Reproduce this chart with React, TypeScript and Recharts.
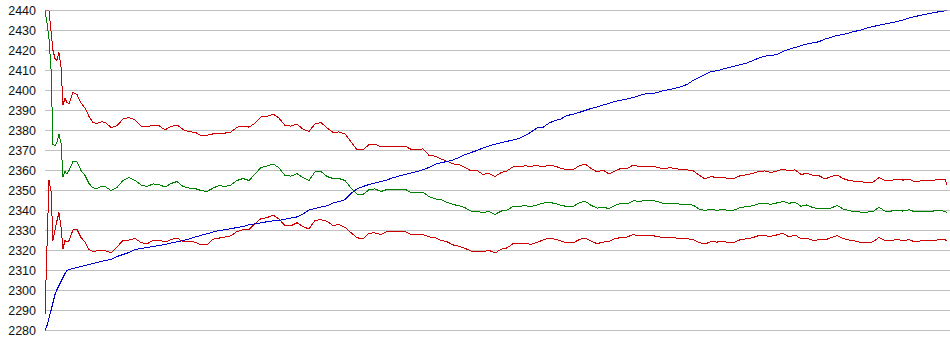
import { LineChart, Line, XAxis, YAxis, CartesianGrid } from "recharts"

// game number on the x axis
const games = [
  0, 1, 2, 3, 4, 5, 6, 7, 8, 9, 10, 11, 12,
  14, 16, 18, 20, 22, 24, 26, 28, 30,
  33, 36, 39, 42, 45, 48, 51, 54, 57, 60,
  63, 66, 69, 72, 75, 78, 81, 84, 87, 90,
  93, 96, 99, 102, 105, 108, 111, 114, 117, 120,
  123, 126, 129, 132, 135, 138, 141, 144, 147, 150,
  153, 156, 159, 162, 165, 168, 171, 174, 177, 180,
  183, 186, 189, 192, 195, 198, 201, 204, 207, 210,
  213, 216, 219, 222, 225, 228, 231, 234, 237, 240,
  243, 246, 249, 252, 255, 258, 261, 264, 267, 270,
  273, 276, 279, 282, 285, 288, 291, 294, 297, 300,
  303, 306, 309, 312, 315, 318, 321, 324, 327, 330,
  333, 336, 339, 342, 345, 348, 351, 354, 357, 360,
  363, 366, 369, 372, 375, 378, 381, 384, 387, 390,
  393, 396, 399, 402, 405, 408, 411, 414, 417, 420,
  423, 426, 429, 432, 435, 438, 441, 444, 447, 450,
  451,
]

// blue: rating
const rating = [
  2280, 2282.5, 2286, 2290, 2294, 2298, 2300.5, 2302.5, 2304.5, 2306.5, 2308.5, 2310, 2310.5,
  2311, 2311.5, 2312, 2312.5, 2313, 2313.5, 2314, 2314.5, 2315,
  2315.5, 2317, 2318, 2319, 2320.5, 2321, 2321.5, 2322, 2322.5, 2323,
  2323.8, 2324.3, 2325, 2325.7, 2326.7, 2327.6, 2328.4, 2329.2, 2330, 2330.4,
  2330.9, 2331.5, 2332, 2332.9, 2333.3, 2333.8, 2334.4, 2334.8, 2335, 2335.7,
  2336.2, 2336.8, 2338.3, 2340.2, 2341, 2341.8, 2342.3, 2343.8, 2344.4, 2345.4,
  2348.6, 2350.8, 2352, 2353, 2353.8, 2354.5, 2355.3, 2356.4, 2357.2, 2358,
  2358.7, 2359.5, 2360.4, 2361.5, 2363.1, 2363.9, 2364.5, 2365.3, 2366.5, 2367.9,
  2369, 2370, 2371.3, 2372.3, 2373.1, 2373.9, 2374.6, 2375.2, 2376, 2377.4,
  2379.2, 2381.3, 2381.6, 2383.7, 2385, 2385.8, 2387.5, 2388.1, 2389, 2390,
  2391, 2391.8, 2392.7, 2393.6, 2394.5, 2395.2, 2395.7, 2396.5, 2397.4, 2398.3,
  2398.3, 2398.9, 2399.9, 2400.4, 2401.1, 2401.9, 2403, 2405, 2406.5, 2408,
  2409.5, 2409.9, 2410.7, 2411.5, 2412.2, 2413, 2413.8, 2415, 2416.3, 2417.2,
  2417.4, 2418.1, 2419.5, 2420.6, 2421.5, 2422.4, 2423.3, 2423.8, 2424.4, 2425.7,
  2426.6, 2427.5, 2428, 2428.8, 2429.6, 2430.2, 2431.2, 2432, 2432.6, 2433.2,
  2433.8, 2434.5, 2435.3, 2436.2, 2437, 2437.6, 2438.2, 2438.8, 2439.4, 2439.8,
  2440,
]

// green: performance estimate
const estimate = [
  2440, 2434, 2426, 2411, 2373, 2372.5, 2374, 2378, 2374, 2357, 2359.5, 2358.3, 2360,
  2364.5, 2364.4, 2360, 2357.5, 2353.5, 2351.3, 2351, 2352, 2352,
  2350, 2351.5, 2355, 2356.5, 2355, 2352.8, 2352, 2353.3, 2353, 2351.7,
  2353.5, 2354.5, 2352, 2351.2, 2351, 2350, 2349.5, 2351.2, 2352.5, 2352,
  2352.8, 2355, 2356, 2355, 2358.2, 2361.5, 2362.3, 2363.3, 2361.3, 2357.5,
  2357.2, 2358.4, 2356.5, 2355, 2359.3, 2359.5, 2357, 2356, 2356, 2355,
  2351.2, 2348.2, 2348, 2350.4, 2350.8, 2349.5, 2350.5, 2350.7, 2350.7, 2350.7,
  2349, 2348.8, 2349.2, 2347, 2345.8, 2345.5, 2344.1, 2343, 2342.4, 2341.4,
  2339.7, 2339.6, 2338.9, 2339.6, 2338, 2339.7, 2340.2, 2342, 2342.1, 2342.4,
  2342, 2342.8, 2343.7, 2344.1, 2343.5, 2342.6, 2342, 2342, 2343.8, 2344.7,
  2342.6, 2341.2, 2341.6, 2341, 2342.5, 2343.6, 2343.3, 2344.8, 2344.7, 2344.8,
  2345, 2344.6, 2343.6, 2343.7, 2343.7, 2343, 2343, 2342.7, 2340.7, 2340,
  2340.8, 2340, 2340.6, 2339.8, 2340.3, 2341.6, 2341.9, 2342.4, 2343.5, 2343.6,
  2343.1, 2343.8, 2344.5, 2343.6, 2344.2, 2342.1, 2342.8, 2341.4, 2341, 2340.8,
  2341.2, 2342.5, 2340.8, 2339.9, 2339.5, 2339.2, 2339.2, 2339.5, 2341.6, 2339.7,
  2339.7, 2340.2, 2339.7, 2340.4, 2339.3, 2339.6, 2339.7, 2339.7, 2340.2, 2339.5,
  2338.8,
]

// red: upper bound
const upper = [
  2440, 2440, 2440, 2430, 2420, 2416, 2415, 2419, 2412, 2393, 2396, 2394, 2393.5,
  2399, 2398, 2393.7, 2391.3, 2387, 2384, 2383.5, 2384.3, 2384.2,
  2381.5, 2382.4, 2385.7, 2386.5, 2385.3, 2382.2, 2381.8, 2382.6, 2382.4, 2380.3,
  2382, 2382.8, 2380.5, 2379.3, 2379.2, 2377.5, 2377.6, 2378.3, 2378.6, 2378.7,
  2379.2, 2381.7, 2382.2, 2381.7, 2383.6, 2386.8, 2387, 2388.2, 2386.2, 2382.5,
  2382.2, 2383.2, 2380.7, 2379.5, 2383.3, 2384, 2381.3, 2379, 2379.3, 2378.3,
  2374.3, 2370.4, 2370.3, 2372.9, 2373.2, 2371.8, 2372, 2372.2, 2372.2, 2372.2,
  2370.6, 2370.3, 2370.8, 2367.6, 2367.2, 2365.8, 2364.6, 2363.3, 2362.9, 2361.6,
  2359.8, 2360, 2358, 2358.6, 2357, 2358.9, 2359.8, 2361.8, 2361.8, 2362.3,
  2362.1, 2362.5, 2361.8, 2362.6, 2362.2, 2361.1, 2360.3, 2360.3, 2362.3, 2363.3,
  2361, 2359.3, 2360.2, 2358.3, 2359.7, 2361.1, 2361, 2362.7, 2362, 2362,
  2362.2, 2361.7, 2360.8, 2361.3, 2361.2, 2360.3, 2360.3, 2360, 2357.7, 2355.8,
  2357, 2356.4, 2356.7, 2355.8, 2356.2, 2357.6, 2357.8, 2358.6, 2359.5, 2359.8,
  2358.9, 2359.8, 2360.8, 2359.8, 2360.3, 2358, 2358.6, 2357.5, 2357.4, 2355.8,
  2356.9, 2357.8, 2356, 2355, 2354.6, 2354.5, 2353.8, 2354.2, 2356.5, 2355,
  2355, 2355.7, 2355.2, 2355.7, 2354.3, 2354.8, 2355, 2355, 2355.7, 2355.5,
  2353,
]

// red: lower bound
const lower = [
  2288, 2322, 2355, 2350, 2325, 2330, 2335, 2339, 2331.7, 2321, 2325, 2324.2, 2325,
  2330.3, 2330.5, 2326.5, 2324.2, 2320.5, 2319.4, 2319.9, 2320, 2320,
  2318.8, 2321.8, 2325, 2325.2, 2326, 2324, 2323.3, 2325, 2325.2, 2324.2,
  2325.4, 2326.3, 2324.3, 2324.6, 2324.2, 2322.8, 2322.9, 2325.7, 2326.2, 2326.7,
  2327.3, 2329.5, 2330.4, 2330.4, 2333.4, 2336, 2336.4, 2337.7, 2335.7, 2332.5,
  2332.4, 2333.9, 2331.9, 2330.8, 2335.1, 2335.4, 2334.6, 2332.5, 2333, 2331.6,
  2328.9, 2326.4, 2325.8, 2328.7, 2328.8, 2328, 2329.6, 2329.7, 2329.4, 2329.6,
  2328, 2327.8, 2328, 2326.8, 2326.5, 2325.1, 2324.4, 2322.8, 2322.1, 2321.1,
  2319.7, 2319.5, 2319.3, 2320.1, 2318.7, 2320.6, 2321.3, 2323.4, 2323.4, 2323.6,
  2323.1, 2324, 2325.3, 2326.1, 2325.7, 2324.8, 2323.8, 2323.8, 2325.4, 2326.3,
  2324.8, 2323.4, 2324.2, 2324.6, 2325.9, 2326.5, 2326.7, 2328, 2327.3, 2327.5,
  2327.6, 2327, 2326.5, 2326.6, 2326.3, 2325.8, 2325.8, 2325.6, 2324, 2323.2,
  2324.5, 2324.2, 2324.7, 2323.8, 2324.2, 2325.6, 2325.8, 2326.5, 2327.5, 2327.3,
  2327.1, 2327.8, 2328.6, 2326.8, 2327.8, 2325.9, 2326.2, 2325, 2325.4, 2325.3,
  2326.4, 2327.5, 2326.1, 2325.2, 2324.8, 2324, 2323.8, 2324.3, 2326.6, 2325,
  2325, 2325.5, 2325, 2325.4, 2324.3, 2324.8, 2325, 2325, 2325.4, 2325.5,
  2324.7,
]

const yTicks = [2280, 2290, 2300, 2310, 2320, 2330, 2340, 2350, 2360, 2370, 2380, 2390, 2400, 2410, 2420, 2430, 2440]

const data = games.map((game, i) => ({
  game,
  rating: rating[i],
  estimate: estimate[i],
  upper: upper[i],
  lower: lower[i],
}))

const App = () => {
  return (
    <div style={{ position: "absolute", left: 0, top: 0, background: "#fff" }}>
      <LineChart width={950} height={355} data={data} margin={{ top: 10.5, right: 0, bottom: 24.5, left: 0 }}>
        <CartesianGrid vertical={false} stroke="#c0c0c0" strokeDasharray="" shapeRendering="crispEdges" />
        <XAxis type="number" dataKey="game" domain={[0, 452.5]} hide />
        <YAxis
          domain={[2280, 2440]}
          ticks={yTicks}
          allowDataOverflow
          width={45}
          axisLine={false}
          tickLine={false}
          tickMargin={3}
          interval={0}
          tick={{ fontSize: 12.5, fill: "#111", fontFamily: "'Liberation Sans', Arial, sans-serif" }}
        />
        <Line type="linear" dataKey="upper" stroke="#cc0000" strokeWidth={1} dot={false} isAnimationActive={false} shapeRendering="crispEdges" />
        <Line type="linear" dataKey="lower" stroke="#cc0000" strokeWidth={1} dot={false} isAnimationActive={false} shapeRendering="crispEdges" />
        <Line type="linear" dataKey="estimate" stroke="#008000" strokeWidth={1} dot={false} isAnimationActive={false} shapeRendering="crispEdges" />
        <Line type="linear" dataKey="rating" stroke="#0000cc" strokeWidth={1} dot={false} isAnimationActive={false} shapeRendering="crispEdges" />
      </LineChart>
    </div>
  )
}

export default App
